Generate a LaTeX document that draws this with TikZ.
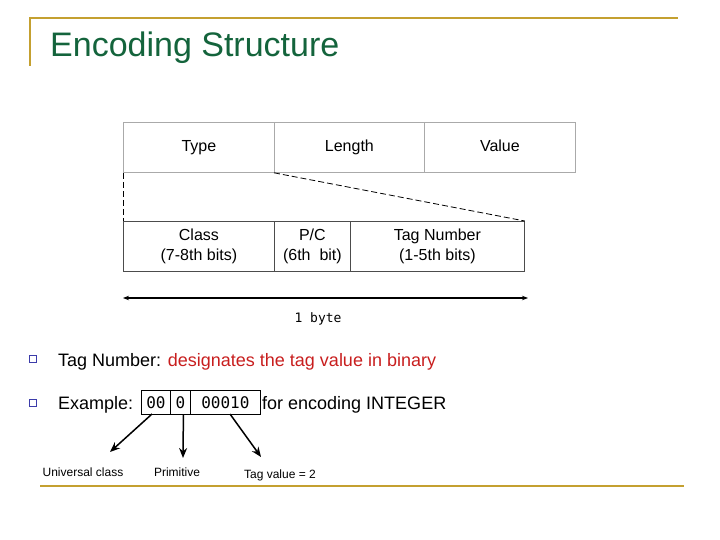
\documentclass[tikz,border=0pt]{standalone}
\usepackage{fontspec}
\setmainfont{Liberation Sans}
\newfontfamily\monof{DejaVu Sans Mono}
\usetikzlibrary{arrows.meta}
\definecolor{gold}{RGB}{196,160,48}
\definecolor{ttl}{RGB}{20,100,60}
\definecolor{redt}{RGB}{200,30,30}
\definecolor{blu}{RGB}{60,60,170}
\definecolor{cellg}{RGB}{170,170,170}
\tikzset{
  cell/.style={draw=cellg,line width=0.8pt,minimum height=50pt,inner sep=0pt,font=\fontsize{16}{20}\selectfont,align=center,anchor=north west},
  bcell/.style={cell,draw=black!70},
  ex/.style={draw=black,line width=0.8pt,minimum height=24pt,inner sep=0pt,anchor=north west,font=\monof\fontsize{16}{18}\selectfont},
  lab/.style={font=\fontsize{12}{14}\selectfont},
  bul/.style={draw=blu,fill=white,line width=1.2pt,minimum size=7pt,inner sep=0pt},
  btxt/.style={anchor=base west,inner sep=0pt,font=\fontsize{18}{21}\selectfont},
  arr/.style={-{Stealth[length=10pt,width=8pt]},line width=1.5pt}
}
\begin{document}
\begin{tikzpicture}[x=1pt,y=-1pt]
\useasboundingbox (0,0) rectangle (720,540);
\draw[gold,line width=2.5pt] (30,18) -- (678,18);
\draw[gold,line width=2.5pt] (30,17) -- (30,66);
\draw[gold,line width=2.5pt] (40,486) -- (684,486);
\node[anchor=base west,text=ttl,font=\fontsize{34}{38}\selectfont,inner sep=0pt] (title) at (50,57) {Encoding Structure};
% top table
\node[cell,minimum width=151pt] (type) at (123,122) {\strut Type};
\node[cell,minimum width=150pt] (len) at (274,122) {\strut Length};
\node[cell,minimum width=151pt] (val) at (424,122) {\strut Value};
% bottom table
\node[bcell,minimum width=151pt] (cls) at (123,221) {Class\\(7-8th bits)};
\node[bcell,minimum width=76pt] (pc) at (274,221) {P/C\\(6th\ \ bit)};
\node[bcell,minimum width=174pt] (tag) at (350,221) {Tag Number\\(1-5th bits)};
\draw[dash pattern=on 6pt off 3pt,black,line width=0.8pt] (type.south west) -- (cls.north west);
\draw[dash pattern=on 6pt off 3pt,black,line width=0.8pt] (len.south west) -- (tag.north east);
\coordinate (a1) at (123,298);
\coordinate (a2) at (528,298);
\draw[{Stealth[length=6pt]}-{Stealth[length=6pt]},line width=2pt] (a1) -- (a2);
\node[font=\monof\fontsize{13}{15}\selectfont] (byte) at (318,319) {1 byte};
% bullets
\node[bul] (b1) at (33,359) {};
\node[btxt] (t1) at (58,366) {Tag Number: \textcolor{redt}{designates the tag value in binary}};
\node[bul] (b2) at (33,403) {};
\node[btxt] (t2a) at (58,409) {Example:};
\node[ex,minimum width=29pt] (e1) at (141,390) {00};
\node[ex,minimum width=20pt] (e2) at (170,390) {0};
\node[ex,minimum width=70pt] (e3) at (190,390) {00010};
\node[btxt] (t2b) at (262,409) {for encoding INTEGER};
\node[lab] (u) at (83,472) {Universal class};
\node[lab] (p) at (177,472) {Primitive};
\node[lab] (tv) at (280,475) {Tag value = 2};
\coordinate (u0) at (110,452);
\coordinate (p0) at (183,458);
\coordinate (t0) at (261,457);
\draw[arr] (152,414) -- (u0);
\draw[arr] (e2.south) ++(3,0) -- (p0);
\draw[arr] (230,414) -- (t0);
\end{tikzpicture}
\end{document}
